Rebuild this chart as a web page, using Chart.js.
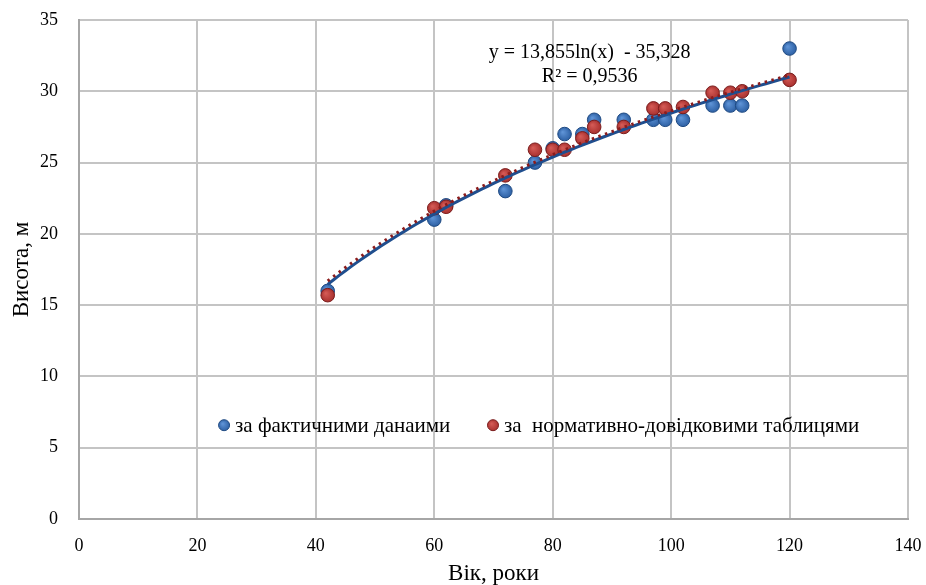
<!DOCTYPE html>
<html>
<head>
<meta charset="utf-8">
<script src="https://cdn.jsdelivr.net/npm/chart.js@4/dist/chart.umd.min.js"></script>
<style>
  body { margin: 0; background: #fff; }
  #chart { display: block; }
</style>
</head>
<body>
<canvas id="chart" width="926" height="585"></canvas>
<script>
// values
const ages = [42, 60, 62, 72, 77, 80, 82, 85, 87, 92, 97, 99, 102, 107, 110, 112, 120];
const heightActual = [16, 21, 22, 23, 25, 26, 27, 27, 28, 28, 28, 28, 28, 29, 29, 29, 33];
const heightNormative = [15.7, 21.8, 21.9, 24.1, 25.9, 25.9, 25.9, 26.7, 27.5, 27.5, 28.8, 28.8, 28.9, 29.9, 29.9, 30.0, 30.8];

const seriesNames = ['за фактичними данаими', 'за  нормативно-довідковими таблицями'];
const equationLines = ['y = 13,855ln(x)  - 35,328', 'R² = 0,9536'];
// trendlines y = a*ln(x) + b : first as printed, second
const trendActual = { a: 13.855, b: -35.328 };
const trendNormative = { a: 13.75, b: -34.7 };

const xTicks = [0, 20, 40, 60, 80, 100, 120, 140];
const yTicks = [0, 5, 10, 15, 20, 25, 30, 35];

const FONT = '"Liberation Serif", "Times New Roman", serif';

function trendPoints(fit) {
    const pts = [];
    const lo = Math.min(...ages), hi = Math.max(...ages);
    for (let x = lo; x <= hi; x += 1) {
        pts.push({ x: x, y: fit.a * Math.log(x) + fit.b });
    }
    return pts;
}

function ballFill(base, light) {
    return (ctx) => {
        if (ctx.type !== 'data' || !ctx.parsed) return base;
        const c = ctx.chart;
        const px = c.scales.x.getPixelForValue(ctx.parsed.x);
        const py = c.scales.y.getPixelForValue(ctx.parsed.y);
        if (!isFinite(px) || !isFinite(py)) return base;
        const g = c.ctx.createRadialGradient(px - 2, py - 2, 0.5, px, py, 7);
        g.addColorStop(0, light);
        g.addColorStop(1, base);
        return g;
    };
}

const BLUE = '#2C5FA3', BLUE_LIGHT = '#5E93D6', BLUE_EDGE = '#1F4A82';
const RED = '#A8302E', RED_LIGHT = '#D45A55', RED_EDGE = '#7A1C1C';

// equation + legend drawn inside the plot area
const overlayText = {
    id: 'overlayText',
    afterDraw(chart) {
        const ctx = chart.ctx;
        const area = chart.chartArea;
        const w = area.right - area.left, h = area.bottom - area.top;
        ctx.save();
        ctx.fillStyle = '#000';
        ctx.textAlign = 'center';
        ctx.textBaseline = 'middle';
        ctx.font = '20px ' + FONT;
        const ex = area.left + w * 0.616;
        ctx.fillText(equationLines[0], ex, area.top + h * 0.066);
        ctx.fillText(equationLines[1], ex, area.top + h * 0.114);

        // legend
        ctx.font = '21px ' + FONT;
        ctx.textAlign = 'left';
        const ly = area.top + h * 0.812;
        const items = [
            { x: area.left + w * 0.175, fill: BLUE, light: BLUE_LIGHT, edge: BLUE_EDGE, text: seriesNames[0] },
            { x: area.left + w * 0.4994, fill: RED, light: RED_LIGHT, edge: RED_EDGE, text: seriesNames[1] }
        ];
        items.forEach(it => {
            const g = ctx.createRadialGradient(it.x - 1.5, ly - 1.5, 0.5, it.x, ly, 6);
            g.addColorStop(0, it.light);
            g.addColorStop(1, it.fill);
            ctx.beginPath();
            ctx.arc(it.x, ly, 5.5, 0, Math.PI * 2);
            ctx.fillStyle = g;
            ctx.fill();
            ctx.lineWidth = 1;
            ctx.strokeStyle = it.edge;
            ctx.stroke();
            ctx.fillStyle = '#000';
            ctx.fillText(it.text, it.x + 11, ly + 1);
        });
        ctx.restore();
    }
};

const chart = new Chart(document.getElementById('chart').getContext('2d'), {
    type: 'scatter',
    data: {
        datasets: [
            {
                label: 'trend-normative',
                type: 'line',
                data: trendPoints(trendNormative),
                borderColor: '#8B1C1C',
                borderWidth: 3,
                borderDash: [2.5, 4.5],
                pointRadius: 0,
                fill: false,
                tension: 0,
                order: 0
            },
            {
                label: 'trend-actual',
                type: 'line',
                data: trendPoints(trendActual),
                borderColor: '#1F4E8E',
                borderWidth: 3,
                pointRadius: 0,
                fill: false,
                tension: 0,
                order: 1
            },
            {
                label: seriesNames[1],
                data: ages.map((a, i) => ({ x: a, y: heightNormative[i] })),
                backgroundColor: ballFill(RED, RED_LIGHT),
                borderColor: RED_EDGE,
                borderWidth: 1,
                pointRadius: 6.8,
                order: 2
            },
            {
                label: seriesNames[0],
                data: ages.map((a, i) => ({ x: a, y: heightActual[i] })),
                backgroundColor: ballFill(BLUE, BLUE_LIGHT),
                borderColor: BLUE_EDGE,
                borderWidth: 1,
                pointRadius: 6.8,
                order: 3
            }
        ]
    },
    options: {
        responsive: false,
        animation: false,
        layout: { padding: { top: 20, right: 18, left: 0, bottom: 0 } },
        plugins: {
            legend: { display: false },
            tooltip: { enabled: false }
        },
        scales: {
            x: {
                type: 'linear',
                min: 0,
                max: 140,
                afterBuildTicks: (s) => { s.ticks = xTicks.map(v => ({ value: v })); },
                afterFit: (s) => { s.height = 66; },
                grid: { color: '#C4C4C4', lineWidth: 2, drawTicks: true, tickLength: 14, tickColor: 'rgba(0,0,0,0)' },
                border: { color: '#A6A6A6', width: 2 },
                ticks: { color: '#000', padding: 2, font: { family: FONT, size: 18 } },
                title: {
                    display: true,
                    text: 'Вік, роки',
                    color: '#000',
                    font: { family: FONT, size: 23, lineHeight: 1 },
                    padding: { top: 0, bottom: 0 }
                }
            },
            y: {
                type: 'linear',
                min: 0,
                max: 35,
                afterBuildTicks: (s) => { s.ticks = yTicks.map(v => ({ value: v })); },
                afterFit: (s) => { s.width = 79; },
                grid: { color: '#C4C4C4', lineWidth: 2, drawTicks: true, tickLength: 18, tickColor: 'rgba(0,0,0,0)' },
                border: { color: '#A6A6A6', width: 2 },
                ticks: { color: '#000', padding: 3, font: { family: FONT, size: 18 } },
                title: {
                    display: true,
                    text: 'Висота, м',
                    color: '#000',
                    font: { family: FONT, size: 23, lineHeight: 1 },
                    padding: { top: 10, bottom: 0 }
                }
            }
        }
    },
    plugins: [overlayText]
});
</script>
</body>
</html>
